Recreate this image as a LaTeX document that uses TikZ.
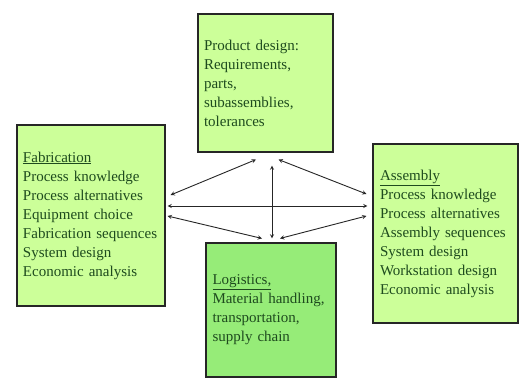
\documentclass[tikz,border=0pt]{standalone}
\usepackage{fontspec}
\setmainfont{Liberation Serif}
\usepackage{tikz}
\usepackage{xcolor}
\usetikzlibrary{
    arrows,
    shapes
}
\definecolor{boxgreen}{RGB}{204,255,153}
\definecolor{logigreen}{RGB}{150,236,120}
\definecolor{textgreen}{RGB}{30,75,30}

\tikzset{
    topic/.style={draw=black!85, line width=1.1pt, rectangle, fill=boxgreen, text=textgreen, align=left, inner xsep=6pt, inner ysep=0pt, font=\fontsize{15}{19}\selectfont},
    link/.style={black!85, <->, >=stealth, line width=0.9pt}
}

\begin{document}
\begin{tikzpicture}[x=1pt, y=-1pt]
            \useasboundingbox (0,0) rectangle (519,378);
            \fill[white] (0,0) rectangle (519,378);

            \node[topic, text width=123pt, minimum height=138pt] (prod) at (265.5, 83) {Product design:\\Requirements,\\parts,\\subassemblies,\\tolerances};
            \node[topic, text width=136pt, minimum height=181pt] (fab) at (91, 215.5) {\underline{Fabrication}\\Process knowledge\\Process alternatives\\Equipment choice\\Fabrication sequences\\System design\\Economic analysis};
            \node[topic, text width=131pt, inner xsep=7pt, minimum height=179pt] (asm) at (445.5, 233.5) {\underline{Assembly}\\Process knowledge\\Process alternatives\\Assembly sequences\\System design\\Workstation design\\Economic analysis};
            \node[topic, fill=logigreen, text width=117pt, inner xsep=6.5pt, minimum height=134pt] (logi) at (271, 310) {\underline{Logistics,}\\Material handling,\\transportation,\\supply chain};

            \draw[link] ([xshift=5pt, yshift=20.5pt]fab.east) -- ([xshift=-9.5pt, yshift=-7pt]prod.south);
            \draw[link] ([xshift=13pt, yshift=-7pt]prod.south) -- ([xshift=-6pt, yshift=39.5pt]asm.west);
            \draw[link] ([xshift=2pt, yshift=9.5pt]fab.east) -- ([xshift=-5pt, yshift=27.5pt]asm.west);
            \draw[link] ([xshift=1pt, yshift=4pt]logi.north) -- ([xshift=6.5pt, yshift=-13pt]prod.south);
            \draw[link] ([xshift=2pt, yshift=-0.5pt]fab.east) -- ([xshift=-9pt, yshift=4pt]logi.north);
            \draw[link] ([xshift=-6pt, yshift=17.5pt]asm.west) -- ([xshift=9pt, yshift=4pt]logi.north);
\end{tikzpicture}
\end{document}
